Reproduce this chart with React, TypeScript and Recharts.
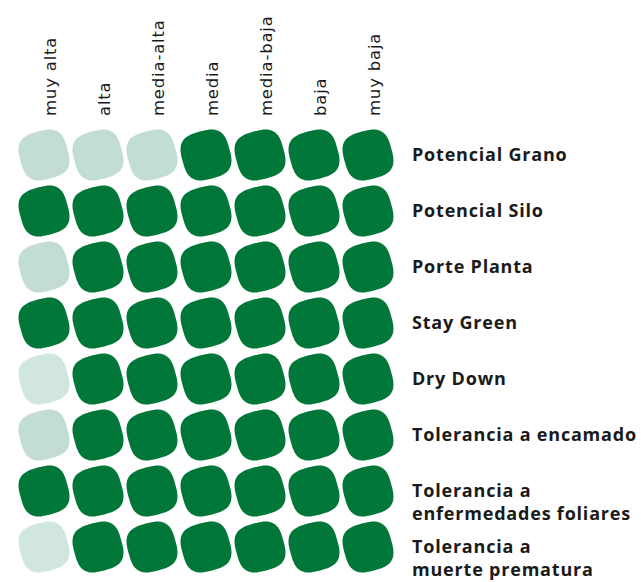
import { ScatterChart, Scatter, XAxis, YAxis } from 'recharts'

// Columnas (nivel) y filas (característica)
const niveles = ['muy alta', 'alta', 'media-alta', 'media', 'media-baja', 'baja', 'muy baja']
const caracteristicas = [
  'Potencial Grano',
  'Potencial Silo',
  'Porte Planta',
  'Stay Green',
  'Dry Down',
  'Tolerancia a encamado',
  'Tolerancia a\nenfermedades foliares',
  'Tolerancia a\nmuerte prematura',
]

// 2 = verde oscuro, 1 = verde claro, 0 = verde muy claro
const potencialGrano = [1, 1, 1, 2, 2, 2, 2]
const potencialSilo = [2, 2, 2, 2, 2, 2, 2]
const portePlanta = [1, 2, 2, 2, 2, 2, 2]
const stayGreen = [2, 2, 2, 2, 2, 2, 2]
const dryDown = [0, 2, 2, 2, 2, 2, 2]
const encamado = [1, 2, 2, 2, 2, 2, 2]
const foliares = [2, 2, 2, 2, 2, 2, 2]
const muertePrematura = [0, 2, 2, 2, 2, 2, 2]

const filas = [potencialGrano, potencialSilo, portePlanta, stayGreen, dryDown, encamado, foliares, muertePrematura]

const COLORES: Record<number, string> = {
  2: '#017639',
  1: '#c2ddd1',
  0: '#d1e6dc',
}

const celdas = filas.flatMap((fila, r) =>
  fila.map((v, c) => ({ col: c, fila: r, valor: v }))
)

// forma de "gota cuadrada" (superelipse girada)
function Blob(props: any) {
  const { cx, cy, payload } = props
  if (cx == null || cy == null) return null
  const a = 24.2
  const n = 3.0
  const rot = (-15 * Math.PI) / 180
  const pts: string[] = []
  for (let i = 0; i < 72; i++) {
    const t = (i / 72) * Math.PI * 2
    const c = Math.cos(t)
    const s = Math.sin(t)
    const px = a * Math.sign(c) * Math.pow(Math.abs(c), 2 / n)
    const py = a * Math.sign(s) * Math.pow(Math.abs(s), 2 / n)
    const rx = px * Math.cos(rot) - py * Math.sin(rot)
    const ry = px * Math.sin(rot) + py * Math.cos(rot)
    pts.push(`${(cx + rx).toFixed(2)},${(cy + ry).toFixed(2)}`)
  }
  return <path d={`M${pts.join('L')}Z`} fill={COLORES[payload.valor]} />
}

function ColTick({ x, y, payload }: any) {
  const tx = x + 12
  const ty = y - 3
  return (
    <text
      x={tx}
      y={ty}
      transform={`rotate(-90, ${tx}, ${ty})`}
      textAnchor="start"
      fill="#1a1a1a"
      fontSize={16.5}
      fontWeight={400}
      fontFamily="'DejaVu Sans', sans-serif"
      letterSpacing={0.8}
    >
      {niveles[payload.value]}
    </text>
  )
}

function RowTick({ x, y, payload }: any) {
  const lines = (caracteristicas[payload.value] || '').split('\n')
  return (
    <text
      x={x + 9}
      y={y}
      fill="#1a1a1a"
      fontSize={18}
      fontWeight={700}
      fontFamily="'Open Sans', sans-serif"
      letterSpacing={0.8}
    >
      {lines.map((l, i) => (
        <tspan key={i} x={x + 9} dy={i === 0 ? 6 : 23}>
          {l}
        </tspan>
      ))}
    </text>
  )
}

export default function App() {
  return (
    <div style={{ position: 'absolute', left: 0, top: 0, width: 641, height: 582, background: '#fff' }}>
      <ScatterChart width={641} height={582} margin={{ top: 7, right: 6, bottom: 7, left: 17 }}>
        <XAxis
          type="number"
          dataKey="col"
          orientation="top"
          domain={[-0.5, 6.5]}
          ticks={[0, 1, 2, 3, 4, 5, 6]}
          height={120}
          axisLine={false}
          tickLine={false}
          tick={<ColTick />}
          interval={0}
        />
        <YAxis
          type="number"
          dataKey="fila"
          orientation="right"
          reversed
          domain={[-0.5, 7.5]}
          ticks={[0, 1, 2, 3, 4, 5, 6, 7]}
          width={240}
          axisLine={false}
          tickLine={false}
          tick={<RowTick />}
          interval={0}
        />
        <Scatter data={celdas} shape={<Blob />} isAnimationActive={false} />
      </ScatterChart>
    </div>
  )
}
